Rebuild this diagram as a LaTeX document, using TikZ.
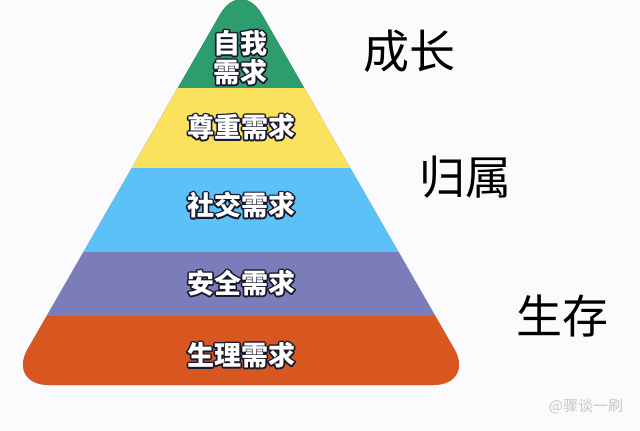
\documentclass[tikz,border=0pt]{standalone}
\usepackage{fontspec}
\newfontfamily\cjk{Noto Sans CJK SC}
\definecolor{bg}{HTML}{FBFBFD}
\definecolor{lgreen}{HTML}{2E9D6E}
\definecolor{lyellow}{HTML}{FAE25C}
\definecolor{lblue}{HTML}{5CC1F6}
\definecolor{lpurple}{HTML}{7B7DBB}
\definecolor{lorange}{HTML}{D8561F}
\definecolor{outl}{HTML}{1A1A2E}
\definecolor{shade}{HTML}{8A8A8A}
\tikzset{
  lab/.style={font=\cjk\bfseries\fontsize{27}{30}\selectfont, align=center, inner sep=0pt, text=white},
  under/.style={lab, text=outl},
  side/.style={font=\cjk\fontsize{46}{50}\selectfont, text=black, inner sep=0pt},
  wm/.style={font=\cjk\fontsize{15}{17}\selectfont, text=black!22, inner sep=0pt}
}
\newcommand\stroked[1]{\special{pdf:literal direct 2 Tr 3.2 w 0.1 0.1 0.18 RG 1 j}#1\special{pdf:literal direct 0 Tr}}
\newcommand\olabel[3]{%
  \node[under] at (#1) {\stroked{#3}};
  \node[lab] (#2) at (#1) {#3};}
\begin{document}
\begin{tikzpicture}[x=1pt,y=-1pt]
\useasboundingbox (0,0) rectangle (640,431);
\fill[bg] (0,0) rectangle (640,431);
\coordinate (apex) at (241,-22);
\coordinate (bl) at (7,385);
\coordinate (br) at (475,385);
% shadow
\fill[shade, opacity=0.55, rounded corners=42pt, shift={(2.5,-3)}]
  (bl) -- (apex) -- (br) -- cycle;
\begin{scope}
  \clip[rounded corners=42pt] (bl) -- (apex) -- (br) -- cycle;
  \fill[lgreen]  (0,-30) rectangle (480,88);
  \fill[lyellow] (0,88)  rectangle (480,168);
  \fill[lblue]   (0,168) rectangle (480,252);
  \fill[lpurple] (0,252) rectangle (480,316);
  \fill[lorange] (0,316) rectangle (480,400);
\end{scope}
\olabel{240,43}{t1}{自我}
\olabel{240,72}{t1b}{需求}
\olabel{241,127}{t2}{尊重需求}
\olabel{241,205}{t3}{社交需求}
\olabel{241,283}{t4}{安全需求}
\olabel{241,355}{t5}{生理需求}
\node[side] (g1) at (409,51) {成长};
\node[side] (g2) at (465,177) {归属};
\node[side] (g3) at (562,316) {生存};
\node[wm] (w) at (586,406) {@骤谈一刷};
\end{tikzpicture}
\end{document}
